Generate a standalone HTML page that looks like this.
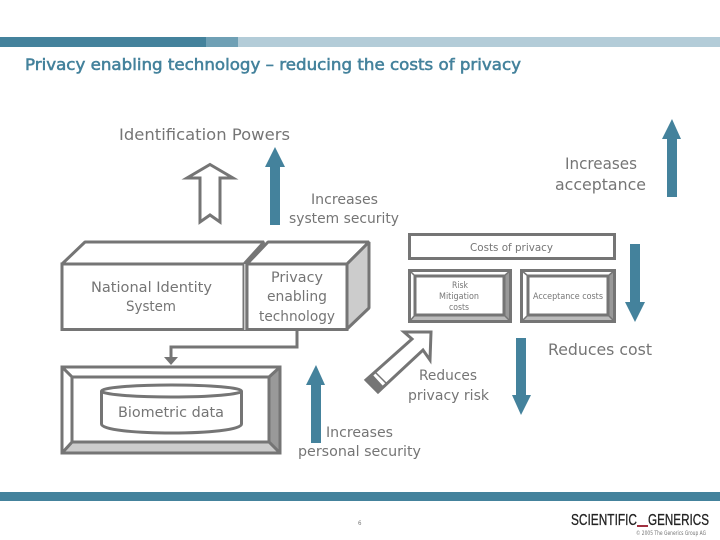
<!DOCTYPE html>
<html>
<head>
<meta charset="utf-8">
<style>
html,body{margin:0;padding:0;background:#fff}
svg{display:block}
text{font-family:"DejaVu Sans","Liberation Sans",sans-serif;fill:#757575}
</style>
</head>
<body>
<svg width="720" height="540" viewBox="0 0 720 540" xmlns="http://www.w3.org/2000/svg">
<rect width="720" height="540" fill="#fff"/>
<!-- header -->
<rect x="0" y="37" width="206" height="10" fill="#44829c"/>
<rect x="206" y="37" width="32" height="10" fill="#6fa0b5"/>
<rect x="238" y="37" width="482" height="10" fill="#b3ccd8"/>
<text x="25" y="70" font-size="16" textLength="496" lengthAdjust="spacingAndGlyphs" style="fill:#44829c;stroke:#44829c;stroke-width:.55">Privacy enabling technology – reducing the costs of privacy</text>
<text x="119" y="140" font-size="16" textLength="171" lengthAdjust="spacingAndGlyphs">Identification Powers</text>

<!-- hollow up arrow -->
<polygon points="210,164.500 233,178 220,178 220,222 210,215 200,222 200,178 187,178" fill="#fff" stroke="#757575" stroke-width="3"/>

<!-- teal arrows -->
<g fill="#44829c">
<polygon points="275,147 285,167 280,167 280,225 270,225 270,167 265,167"/>
<polygon points="672,119 681,139 677,139 677,197 667,197 667,139 662,139"/>
<polygon points="316,365 325,385 321,385 321,443 311,443 311,385 306,385"/>
<polygon points="635,322 645,302 640,302 640,244 630,244 630,302 625,302"/>
<polygon points="521,415 531,395 526,395 526,338 516,338 516,395 512,395"/>
</g>

<text x="565" y="169" font-size="16" textLength="72" lengthAdjust="spacingAndGlyphs">Increases</text>
<text x="555" y="190" font-size="16" textLength="91" lengthAdjust="spacingAndGlyphs">acceptance</text>
<text x="311" y="204" font-size="14" textLength="67" lengthAdjust="spacingAndGlyphs">Increases</text>
<text x="289" y="223" font-size="14" textLength="110" lengthAdjust="spacingAndGlyphs">system security</text>

<!-- cube 1 -->
<g stroke="#757575" stroke-width="3" stroke-linejoin="bevel">
<polygon points="85,242 264,242 244,264 62,264" fill="#fff"/>
<rect x="62" y="264" width="182" height="65.500" fill="#fff" stroke-linejoin="miter"/>
<line x1="245" y1="264" x2="245" y2="330" stroke="#c8c8c8" stroke-width="2"/>
<!-- cube 2 -->
<polygon points="268,242 369,242 347,264 247,264" fill="#fff"/>
<polygon points="347,264 369,242 369,308 347,329" fill="#ccc"/>
<rect x="247" y="264" width="100" height="65.500" fill="#fff" stroke-linejoin="miter"/>
</g>
<text x="91" y="292" font-size="14" textLength="121" lengthAdjust="spacingAndGlyphs">National Identity</text>
<text x="126" y="311" font-size="14" textLength="50" lengthAdjust="spacingAndGlyphs">System</text>
<text x="271" y="282" font-size="14" textLength="52" lengthAdjust="spacingAndGlyphs">Privacy</text>
<text x="267" y="301" font-size="14" textLength="60" lengthAdjust="spacingAndGlyphs">enabling</text>
<text x="259" y="321" font-size="14" textLength="76" lengthAdjust="spacingAndGlyphs">technology</text>

<!-- connector -->
<polyline points="297,330 297,347 171,347 171,358" fill="none" stroke="#757575" stroke-width="3"/>
<polygon points="164,357 178,357 171,365" fill="#757575"/>

<!-- biometric bevel -->
<g stroke="#757575" stroke-width="3" stroke-linejoin="bevel">
<polygon points="280,367 280,453 269,442 269,377" fill="#999"/>
<polygon points="62,453 280,453 269,442 72,442" fill="#ccc"/>
<polygon points="62,367 280,367 269,377 72,377" fill="#fff"/>
<polygon points="62,367 72,377 72,442 62,453" fill="#fff"/>
<rect x="72" y="377" width="197" height="65" fill="#fff" stroke-linejoin="miter"/>
<rect x="62" y="367" width="218" height="86" fill="none" stroke-linejoin="miter"/>
<path d="M101.500,391 V424 C101.500,436 241.500,436 241.500,424 V391" fill="#fff"/>
<ellipse cx="171.500" cy="391" rx="70" ry="6" fill="#fff"/>
</g>
<text x="118" y="417" font-size="14" textLength="106" lengthAdjust="spacingAndGlyphs">Biometric data</text>

<!-- costs -->
<rect x="409.500" y="234.500" width="205" height="24" fill="#fff" stroke="#757575" stroke-width="3"/>
<text x="470" y="251" font-size="11" textLength="83" lengthAdjust="spacingAndGlyphs">Costs of privacy</text>

<g stroke="#757575" stroke-width="3">
<rect x="409.500" y="270.500" width="101" height="51" fill="#fff"/>
<polygon points="510.500,270.500 510.500,321.500 504,315 504,276" fill="#999" stroke-width="0"/>
<polygon points="409.500,321.500 510.500,321.500 504,315 415,315" fill="#bbb" stroke-width="0"/>
<path d="M409.500,270.500 L415,276 M510.500,270.500 L504,276 M409.500,321.500 L415,315 M510.500,321.500 L504,315" stroke-width="1.500" fill="none"/>
<rect x="415" y="276" width="89" height="39" fill="#fff"/>
<rect x="409.500" y="270.500" width="101" height="51" fill="none"/>

<rect x="521.500" y="270.500" width="93" height="51" fill="#fff"/>
<polygon points="614.500,270.500 614.500,321.500 608,315 608,276" fill="#999" stroke-width="0"/>
<polygon points="521.500,321.500 614.500,321.500 608,315 528,315" fill="#bbb" stroke-width="0"/>
<path d="M521.500,270.500 L528,276 M614.500,270.500 L608,276 M521.500,321.500 L528,315 M614.500,321.500 L608,315" stroke-width="1.500" fill="none"/>
<rect x="528" y="276" width="80" height="39" fill="#fff"/>
<rect x="521.500" y="270.500" width="93" height="51" fill="none"/>
</g>
<text x="452" y="288" font-size="8.500" textLength="16" lengthAdjust="spacingAndGlyphs">Risk</text>
<text x="439" y="299" font-size="8.500" textLength="40" lengthAdjust="spacingAndGlyphs">Mitigation</text>
<text x="449" y="310" font-size="8.500" textLength="20" lengthAdjust="spacingAndGlyphs">costs</text>
<text x="533" y="299" font-size="8.500" textLength="70" lengthAdjust="spacingAndGlyphs">Acceptance costs</text>

<!-- diagonal hollow arrow -->
<polygon points="431,332 404,332 412,339 366,380 378,392 423,350 430,360" fill="#fff" stroke="#757575" stroke-width="3" stroke-linejoin="miter"/>
<polygon points="366,380 372,374 384,387 378,392" fill="#757575"/>
<line x1="375" y1="372" x2="387" y2="384" stroke="#757575" stroke-width="1.500"/>

<text x="548" y="355" font-size="16" textLength="104" lengthAdjust="spacingAndGlyphs">Reduces cost</text>
<text x="419" y="380" font-size="14" textLength="58" lengthAdjust="spacingAndGlyphs">Reduces</text>
<text x="408" y="400" font-size="14" textLength="81" lengthAdjust="spacingAndGlyphs">privacy risk</text>
<text x="326" y="437" font-size="14" textLength="67" lengthAdjust="spacingAndGlyphs">Increases</text>
<text x="298" y="456" font-size="14" textLength="123" lengthAdjust="spacingAndGlyphs">personal security</text>

<!-- footer -->
<rect x="0" y="492" width="720" height="9" fill="#44829c"/>
<text x="358" y="525" font-size="6" textLength="3.500" lengthAdjust="spacingAndGlyphs">6</text>
<text x="571" y="525" font-size="16" textLength="66" lengthAdjust="spacingAndGlyphs" style="font-family:'Liberation Sans',sans-serif;fill:#222;stroke:#222;stroke-width:.3">SCIENTIFIC</text>
<rect x="637" y="525" width="11" height="2" fill="#a03040"/>
<text x="648" y="525" font-size="16" textLength="61" lengthAdjust="spacingAndGlyphs" style="font-family:'Liberation Sans',sans-serif;fill:#222;stroke:#222;stroke-width:.3">GENERICS</text>
<text x="636" y="535" font-size="6" textLength="70" lengthAdjust="spacingAndGlyphs">© 2005 The Generics Group AG</text>
</svg>
</body>
</html>
